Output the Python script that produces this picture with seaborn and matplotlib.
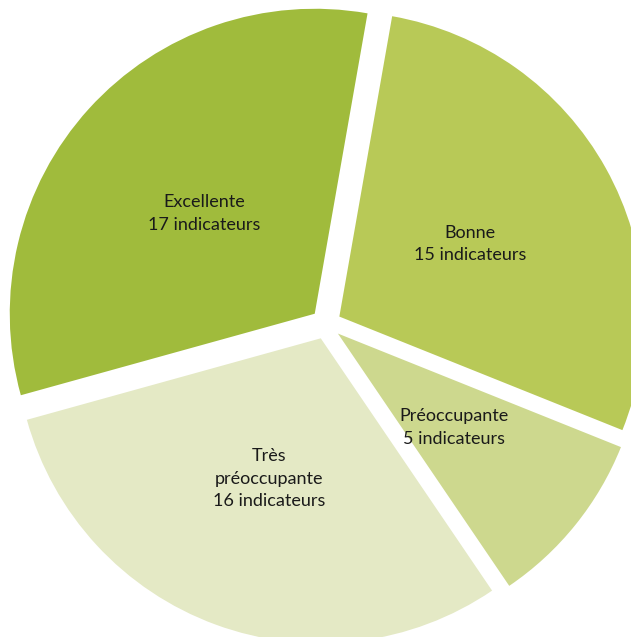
import matplotlib
matplotlib.use("Agg")
import matplotlib.pyplot as plt
import seaborn as sns

# Repartition of the indicators by status
categories = ["Excellente", "Bonne", "Préoccupante", "Très\npréoccupante"]
counts = [17, 15, 5, 16]
colors = ["#A0BB3C", "#B8C957", "#CDD88E", "#E4E9C5"]

sns.set_theme(style="white")
plt.rcParams["font.family"] = ["Lato", "DejaVu Sans"]
palette = sns.color_palette(colors)

fig = plt.figure(figsize=(6.31, 6.37), dpi=100)
ax = fig.add_axes([0, 0, 1, 1])

labels = [f"{c}\n{n} indicateurs" for c, n in zip(categories, counts)]
ax.pie(
    counts,
    labels=labels,
    colors=palette,
    startangle=195.5,
    counterclock=False,
    explode=[0.05] * len(counts),
    radius=1.0,
    labeldistance=0.49,
    wedgeprops=dict(linewidth=0),
    textprops=dict(ha="center", va="center", fontsize=13, color="#1a1a1a",
                   linespacing=1.5),
)

# pie centre sits slightly right of the middle; right and bottom edges are clipped
ax.set_xlim(-1.069, 1.0)
ax.set_ylim(-1.026, 1.062)
ax.set_aspect("equal", adjustable="box")
ax.axis("off")

fig.savefig("out.png", dpi=100)
